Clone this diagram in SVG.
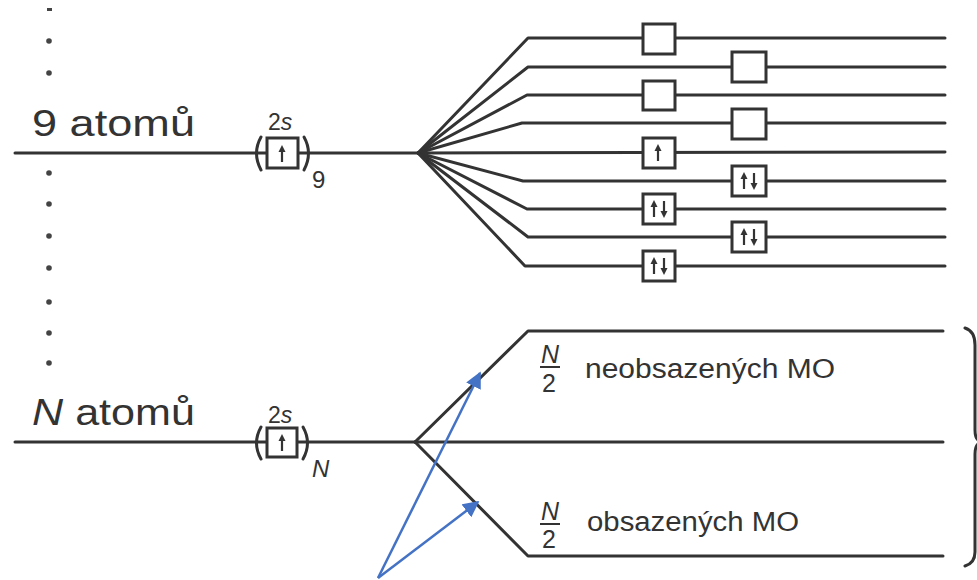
<svg xmlns="http://www.w3.org/2000/svg" width="977" height="580" viewBox="0 0 977 580">
  <defs>
    <style>
      .ln { stroke: #333; stroke-width: 3; fill: none; stroke-linecap: round; stroke-linejoin: round; }
      .box { stroke: #333; stroke-width: 3; fill: #fff; }
      .lbl { font-family: "Liberation Sans", Arial, sans-serif; fill: #333; }
      .big { font-size: 37px; }
      .orb { font-size: 23px; }
      .sub { font-size: 24px; }
      .mo { font-size: 27px; }
      .frac { font-size: 25px; }
      .dot { fill: #444; }
      .blue { stroke: #4472C4; stroke-width: 2.5; fill: none; }
    </style>
    <marker id="ah" viewBox="0 0 10 10" refX="9" refY="5" markerWidth="6.5" markerHeight="6.5" orient="auto" markerUnits="strokeWidth">
      <path d="M0,0 L10,5 L0,10 Z" fill="#4472C4"/>
    </marker>
    <!-- electron spin arrows -->
    <g id="up"><line x1="0" y1="8" x2="0" y2="-4" stroke="#333" stroke-width="2.2"/><path d="M-3.5,-2 L0,-9 L3.5,-2 Z" fill="#333"/></g>
    <g id="down"><line x1="0" y1="-8" x2="0" y2="4" stroke="#333" stroke-width="2.2"/><path d="M-3.5,2 L0,9 L3.5,2 Z" fill="#333"/></g>
  </defs>
  <rect width="977" height="580" fill="#fff"/>

  <!-- vertical ellipsis dots between the levels -->
  <g id="dots">
    <rect x="47" y="8" width="5" height="3" class="dot"/>
    <circle cx="49" cy="41" r="2.8" class="dot"/>
    <circle cx="49" cy="73" r="2.8" class="dot"/>
    <circle cx="49" cy="173" r="2.8" class="dot"/>
    <circle cx="49" cy="204" r="2.8" class="dot"/>
    <circle cx="49" cy="236" r="2.8" class="dot"/>
    <circle cx="49" cy="268" r="2.8" class="dot"/>
    <circle cx="49" cy="302" r="2.8" class="dot"/>
    <circle cx="49" cy="333" r="2.8" class="dot"/>
    <circle cx="49" cy="363" r="2.8" class="dot"/>
  </g>

  <!-- level lines and fans -->
  <g id="connectors">
    <line class="ln" x1="15" y1="153" x2="418" y2="153"/>
    <path class="ln" d="M418,153 L528,38 L945,38"/>
    <path class="ln" d="M418,153 L528,67 L945,67"/>
    <path class="ln" d="M418,153 L527,95 L945,95"/>
    <path class="ln" d="M418,153 L522,123 L945,123"/>
    <path class="ln" d="M418,153 L945,152"/>
    <path class="ln" d="M418,153 L523,181 L945,181"/>
    <path class="ln" d="M418,153 L527,209 L945,209"/>
    <path class="ln" d="M418,153 L528,237 L945,237"/>
    <path class="ln" d="M418,153 L525,266 L945,266"/>

    <line class="ln" x1="15" y1="442" x2="415" y2="442"/>
    <path class="ln" d="M415,442 L528,331 L943,331"/>
    <path class="ln" d="M415,442 L943,442"/>
    <path class="ln" d="M415,442 L528,556 L943,556"/>

    <path class="ln" d="M965,328 Q975,331 975,345 L975,430 Q975,441 982,442 M975,454 L975,552 Q975,563 965,566 M982,442 Q975,443 975,454" stroke-width="2.5"/>
  </g>

  <!-- 9 atoms -->
  <g id="atoms9">
    <text class="lbl big" x="32" y="136" textLength="163" lengthAdjust="spacingAndGlyphs">9 atomů</text>
    <text class="lbl orb" x="268" y="130">2<tspan font-style="italic">s</tspan></text>
    <path class="ln" d="M261,137 Q252,153 261,170" stroke-width="2.8"/>
    <rect class="box" x="267" y="138" width="31" height="30"/>
    <use href="#up" x="282" y="154"/>
    <path class="ln" d="M304,137 Q313,153 304,170" stroke-width="2.8"/>
    <text class="lbl sub" x="312" y="188">9</text>
  </g>

  <!-- molecular orbitals for 9 atoms -->
  <g id="mo9">
    <rect class="box" x="643" y="24" width="32" height="30"/>
    <rect class="box" x="732" y="52" width="34" height="30"/>
    <rect class="box" x="643" y="81" width="32" height="29"/>
    <rect class="box" x="732" y="109" width="34" height="30"/>
    <rect class="box" x="643" y="138" width="32" height="30"/>
    <use href="#up" x="658" y="153"/>
    <rect class="box" x="732" y="166" width="34" height="30"/>
    <use href="#up" x="744" y="181"/><use href="#down" x="754" y="181"/>
    <rect class="box" x="643" y="194" width="32" height="30"/>
    <use href="#up" x="654" y="209"/><use href="#down" x="664" y="209"/>
    <rect class="box" x="732" y="222" width="34" height="30"/>
    <use href="#up" x="744" y="237"/><use href="#down" x="754" y="237"/>
    <rect class="box" x="643" y="251" width="32" height="30"/>
    <use href="#up" x="654" y="266"/><use href="#down" x="664" y="266"/>
  </g>

  <!-- N atoms -->
  <g id="atomsN">
    <text class="lbl big" x="32" y="425" textLength="163" lengthAdjust="spacingAndGlyphs"><tspan font-style="italic">N</tspan> atomů</text>
    <text class="lbl orb" x="268" y="423">2<tspan font-style="italic">s</tspan></text>
    <path class="ln" d="M261,427 Q252,443 261,459" stroke-width="2.8"/>
    <rect class="box" x="267" y="428" width="30" height="29"/>
    <use href="#up" x="282" y="443"/>
    <path class="ln" d="M303,427 Q312,443 303,459" stroke-width="2.8"/>
    <text class="lbl sub" x="312" y="477" font-style="italic">N</text>
  </g>

  <!-- band halves for N atoms -->
  <g id="unoccupied">
    <text class="lbl frac" x="541" y="363" font-style="italic">N</text>
    <line x1="540" y1="367" x2="560" y2="367" stroke="#333" stroke-width="2"/>
    <text class="lbl frac" x="542" y="392">2</text>
    <text class="lbl mo" x="585" y="378" textLength="250" lengthAdjust="spacingAndGlyphs">neobsazených MO</text>
  </g>
  <g id="occupied">
    <text class="lbl frac" x="541" y="520" font-style="italic">N</text>
    <line x1="540" y1="524" x2="560" y2="524" stroke="#333" stroke-width="2"/>
    <text class="lbl frac" x="542" y="548">2</text>
    <text class="lbl mo" x="587" y="531" textLength="212" lengthAdjust="spacingAndGlyphs">obsazených MO</text>
  </g>

  <!-- pointer arrows -->
  <g id="pointers">
    <line class="blue" x1="378" y1="578" x2="480" y2="373" marker-end="url(#ah)"/>
    <line class="blue" x1="378" y1="578" x2="478" y2="502" marker-end="url(#ah)"/>
  </g>
</svg>
